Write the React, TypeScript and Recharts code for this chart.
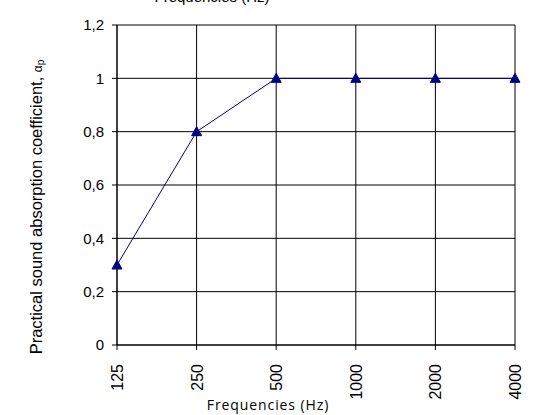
import React from "react";
import { LineChart, Line, XAxis, YAxis, CartesianGrid } from "recharts";

const frequencies = ["125", "250", "500", "1000", "2000", "4000"];
const absorption = [0.3, 0.8, 1, 1, 1, 1];
const yTicks = [0, 0.2, 0.4, 0.6, 0.8, 1, 1.2];

const data = frequencies.map((f, i) => ({ freq: f, alpha: absorption[i] }));

const NAVY = "#000080";
const FONT = "Liberation Sans";

const Triangle = (props: any) => {
  const { cx, cy } = props;
  if (cx == null || cy == null) return null;
  return (
    <path
      d={`M${cx},${cy - 5} L${cx + 5},${cy + 4} L${cx - 5},${cy + 4} Z`}
      fill={NAVY}
      stroke={NAVY}
    />
  );
};

const XTick = (props: any) => {
  const { x, y, payload } = props;
  const ty = y + 12;
  return (
    <text
      x={x}
      y={ty}
      transform={`rotate(-90 ${x} ${ty})`}
      dy={6}
      textAnchor="end"
      style={{ fontFamily: FONT, fontSize: 16 }}
      fill="#000"
    >
      {payload.value}
    </text>
  );
};

const YLabel = () => (
  <text
    x={42}
    y={207}
    transform="rotate(-90 42 207)"
    textAnchor="middle"
    style={{ fontFamily: FONT, fontSize: 16.5 }}
    fill="#000"
  >
    Practical sound absorption coefficient,{" "}
    <tspan style={{ fontSize: 12 }}>α</tspan>
    <tspan style={{ fontSize: 10 }} dy={2}>
      p
    </tspan>
  </text>
);

const XLabel = () => (
  <text
    x={268}
    y={410}
    textAnchor="middle"
    style={{ fontFamily: "Open Sans", fontSize: 14, letterSpacing: 0.9 }}
    fill="#000"
  >
    Frequencies (Hz)
  </text>
);

export default function App() {
  return (
    <div style={{ position: "absolute", left: 0, top: 0, width: 550, height: 415, background: "#fff" }}>
      <div
        style={{
          position: "absolute",
          left: 0,
          width: 424,
          top: -12,
          textAlign: "center",
          fontFamily: FONT,
          fontSize: 15,
        }}
      >
        Frequencies (Hz)
      </div>
      <LineChart
        width={550}
        height={415}
        data={data}
        margin={{ top: 25, right: 35, left: 57, bottom: 0 }}
      >
        <CartesianGrid stroke="#000" strokeWidth={1} />
        <XAxis
          dataKey="freq"
          type="category"
          padding={{ left: 0, right: 0 }}
          height={70}
          tickSize={5}
          stroke="#000"
          tickLine={{ stroke: "#000" }}
          interval={0}
          tick={<XTick />}
          label={<XLabel />}
        />
        <YAxis
          width={60}
          domain={[0, 1.2]}
          ticks={yTicks}
          tickSize={5}
          tickMargin={8}
          stroke="#000"
          interval={0}
          tick={{ fill: "#000", style: { fontFamily: FONT, fontSize: 15 } }}
          tickFormatter={(v: number) => String(Math.round(v * 10) / 10).replace(".", ",")}
          label={<YLabel />}
        />
        <Line
          dataKey="alpha"
          stroke={NAVY}
          strokeWidth={1}
          dot={<Triangle />}
          activeDot={false}
          isAnimationActive={false}
        />
      </LineChart>
    </div>
  );
}
